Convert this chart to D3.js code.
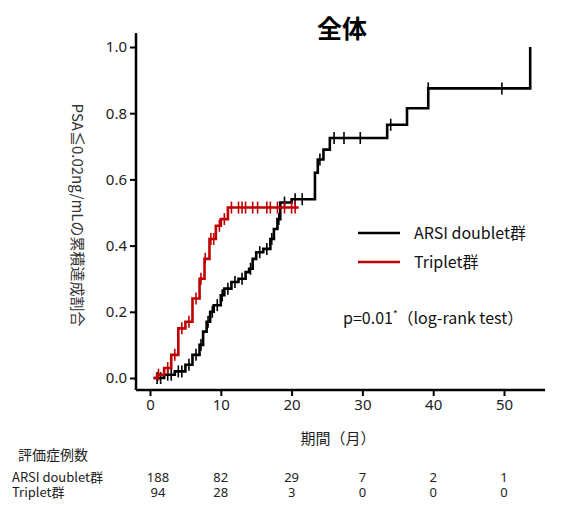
<!DOCTYPE html>
<html><head><meta charset="utf-8">
<script src="https://cdn.jsdelivr.net/npm/d3@7"></script>
<style>body{margin:0;background:#fff;font-family:"Noto Sans CJK JP","Noto Sans",sans-serif}</style>
</head><body><svg id="chart"></svg>
<script>
// step curves: [month, cumulative rate]
const ARSI = [[0.5,0],[2,0.01],[3.5,0.02],[5,0.04],[6,0.07],[7,0.1],[7.5,0.14],[8,0.17],[8.5,0.2],[9,0.22],[10,0.25],[10.5,0.27],[11.5,0.29],[12.5,0.3],[13.5,0.32],[14,0.33],[14.5,0.36],[15,0.38],[16,0.39],[17,0.42],[17.5,0.45],[18,0.48],[18.4,0.53],[20,0.54],[23.3,0.62],[23.7,0.66],[24.5,0.69],[25.4,0.725],[33.5,0.765],[36.3,0.815],[39.3,0.875],[53.7,1.0]];
const TRIPLET = [[0.5,0],[1,0.01],[2,0.03],[3,0.07],[4,0.15],[5,0.17],[6,0.24],[7,0.3],[7.7,0.36],[8.4,0.42],[9.3,0.46],[10,0.48],[11,0.515],[21,0.515]];
const ARSI_CENSOR = [1,1.5,2.5,3,4,4.5,5.5,6.5,7.2,8.2,8.8,9.5,10.2,11,12,13,14.2,15.5,16.5,17.2,18.2,19,20.5,21.5,24,26,27.4,29.7,34,39.3,49.7];
const TRIPLET_CENSOR = [1.2,2.5,3.5,4.5,5.5,6.5,7.2,7.8,8.6,9,9.8,10.5,11.5,12.5,13,13.5,14.5,15.2,16.5,17,18,19,20,20.5];
const xTicks = [0,10,20,30,40,50];
const yTicks = [0,0.2,0.4,0.6,0.8,1.0];
const riskLabels = ["ARSI doublet群","Triplet群"];
const riskArsi = [188,82,29,7,2,1];
const riskTriplet = [94,28,3,0,0,0];

const w = 575, h = 510;
const svg = d3.select('#chart').attr('width', w).attr('height', h);
const x = d3.scaleLinear().domain([0,50]).range([150,504]);
const y = d3.scaleLinear().domain([0,1]).range([378,47]);

svg.append('text').attr('x',342).attr('y',38).attr('text-anchor','middle')
  .attr('font-size',25).attr('font-weight','bold').text('全体');

const yAxis = svg.append('g').attr('transform','translate(136,0)')
  .call(d3.axisLeft(y).tickValues(yTicks).tickFormat(d3.format('.1f')).tickSizeOuter(0).tickSize(6));
yAxis.select('.domain').attr('d','M0,33V390');
const xAxis = svg.append('g').attr('transform','translate(0,390)')
  .call(d3.axisBottom(x).tickValues(xTicks).tickSizeOuter(0).tickSize(6));
xAxis.select('.domain').attr('d','M136,0H545');
svg.selectAll('.domain').attr('stroke','#000').attr('stroke-width',2.5);
svg.selectAll('.tick line').attr('stroke-width',2);
svg.selectAll('.tick text').attr('font-size',15).attr('fill','#222')
  .attr('font-family','"Noto Sans",sans-serif');

svg.append('text').attr('transform','translate(72,215) rotate(90)').attr('text-anchor','middle')
  .attr('font-size',15).attr('fill','#333').text('PSA≦0.02ng/mLの累積達成割合');
svg.append('text').attr('x',338).attr('y',444).attr('text-anchor','middle')
  .attr('font-size',15).attr('fill','#222').text('期間（月）');

const line = d3.line().x(d=>x(d[0])).y(d=>y(d[1])).curve(d3.curveStepAfter);
function valAt(data,t){let v=data[0][1];for(const d of data){if(d[0]<=t)v=d[1];}return v;}
function draw(data,cens,col){
  svg.append('path').attr('d',line(data)).attr('fill','none').attr('stroke',col).attr('stroke-width',2.6);
  svg.append('g').selectAll('line').data(cens).join('line')
    .attr('x1',d=>x(d)).attr('x2',d=>x(d))
    .attr('y1',d=>y(valAt(data,d))-6).attr('y2',d=>y(valAt(data,d))+6)
    .attr('stroke',col).attr('stroke-width',1.6);
}
draw(ARSI,ARSI_CENSOR,'#000');
draw(TRIPLET,TRIPLET_CENSOR,'#c00000');

[['ARSI doublet群','#000',233],['Triplet群','#c00000',262]].forEach(([t,c,yy])=>{
  svg.append('line').attr('x1',358).attr('x2',400).attr('y1',yy).attr('y2',yy).attr('stroke',c).attr('stroke-width',2.6);
  svg.append('text').attr('x',414).attr('y',yy+6).attr('font-size',16).attr('fill','#111').text(t);
});
const p = svg.append('text').attr('x',343).attr('y',324).attr('font-size',16).attr('fill','#111');
p.append('tspan').text('p=0.01');
p.append('tspan').attr('font-size',10).attr('dy',-6).text('*');
p.append('tspan').attr('dy',6).text('（log-rank test）');

svg.append('text').attr('x',18).attr('y',460).attr('font-size',14).attr('fill','#222').text('評価症例数');
[[riskArsi,482],[riskTriplet,497]].forEach(([vals,yy],i)=>{
  svg.append('text').attr('x',12).attr('y',yy).attr('font-size',13).attr('fill','#222').text(riskLabels[i]);
  svg.append('g').selectAll('text').data(vals).join('text')
    .attr('x',(d,j)=>x(xTicks[j])+(j===0?8:0)).attr('y',yy).attr('text-anchor','middle')
    .attr('font-size',13).attr('fill','#222').attr('font-family','"Noto Sans",sans-serif').text(d=>d);
});
</script></body></html>
